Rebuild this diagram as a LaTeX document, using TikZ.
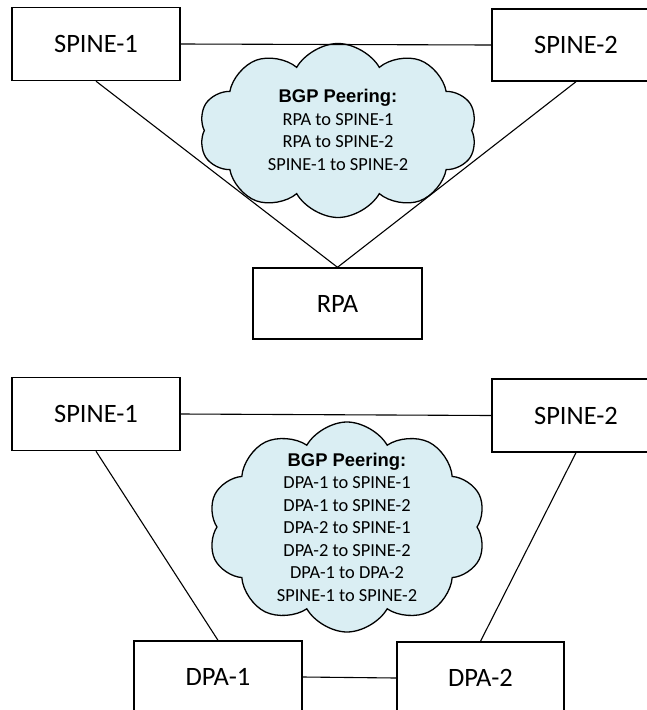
\documentclass[tikz,border=0pt]{standalone}
\usepackage{fontspec}
\setmainfont{Carlito}
\newfontfamily\headfont{Liberation Sans}
\usepackage{xcolor}
\usepackage{tikz}
\usetikzlibrary{shapes.symbols,positioning}

\definecolor{cloudblue}{RGB}{218,238,243}

\begin{document}
\begin{tikzpicture}[x=1pt, y=-1pt,
    dev/.style={draw, line width=1.4pt, rectangle, minimum width=168pt, minimum height=73pt,
        inner sep=0pt, font=\fontsize{26.5}{30}\selectfont},
    peer/.style={draw, line width=1.3pt, fill=cloudblue, cloud, cloud puffs=10,
        cloud puff arc=120, cloud ignores aspect, inner sep=0pt},
    peertext/.style={align=center, inner sep=0pt, font=\fontsize{18.4}{22.5}\selectfont},
    link/.style={line width=1.1pt}]
    \useasboundingbox (0,0) rectangle (646,710);

    % upper picture
    \node[dev] (spineA) at (96,44) {SPINE-1};
    \node[dev, minimum height=72pt] (spineB) at (576,45) {SPINE-2};
    \node[dev, minimum width=169pt, minimum height=71pt] (rpa) at (337.5,303.5) {RPA};
    \node[peer, minimum width=278pt, minimum height=174pt] (cloudA) at (338,130.5) {};
    \node[peertext] (peerA) at (338,130)
        {{\headfont\bfseries BGP Peering:}\\RPA to SPINE-1\\RPA to SPINE-2\\SPINE-1 to SPINE-2};
    \draw[link] (spineA.east) -- (spineB.west);
    \draw[link] (spineA.south) -- (rpa.north);
    \draw[link] (spineB.south) -- (rpa.north);

    % lower picture
    \node[dev] (spineC) at (96,414) {SPINE-1};
    \node[dev] (spineD) at (576,415.5) {SPINE-2};
    \node[dev, minimum height=72pt] (dpaA) at (218,677) {DPA-1};
    \node[dev, minimum width=167pt, minimum height=72pt] (dpaB) at (480.5,678) {DPA-2};
    \node[peer, minimum width=278pt, minimum height=210pt] (cloudB) at (347,527) {};
    \node[peertext] (peerB) at (cloudB.center)
        {{\headfont\bfseries BGP Peering:}\\DPA-1 to SPINE-1\\DPA-1 to SPINE-2\\DPA-2 to SPINE-1\\
         DPA-2 to SPINE-2\\DPA-1 to DPA-2\\SPINE-1 to SPINE-2};
    \draw[link] (spineC.east) -- (spineD.west);
    \draw[link] (spineC.south) -- (dpaA.north);
    \draw[link] (spineD.south) -- (dpaB.north);
    \draw[link] (dpaA.east) -- (dpaB.west);
\end{tikzpicture}
\end{document}
